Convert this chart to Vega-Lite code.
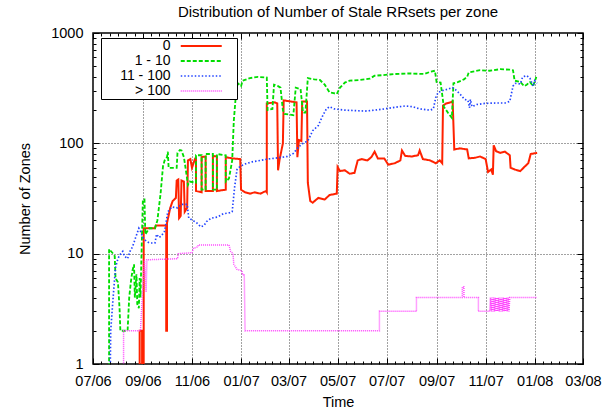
{
  "$schema": "https://vega.github.io/schema/vega-lite/v6.json",
  "width": 490,
  "height": 331,
  "autosize": {"type": "none"},
  "padding": {"left": 93, "top": 33, "right": 30, "bottom": 47},
  "background": "white",
  "title": {"text": "Distribution of Number of Stale RRsets per zone", "font": "Liberation Sans", "fontSize": 15, "fontWeight": "normal", "color": "black", "anchor": "middle", "frame": "group", "baseline": "middle", "offset": -2},
  "config": {
    "font": "Liberation Sans",
    "view": {"stroke": "black", "strokeWidth": 1.5},
    "axis": {"labelFont": "Liberation Sans", "labelFontSize": 14.5, "labelColor": "black", "titleFont": "Liberation Sans", "titleFontSize": 14.5, "titleFontWeight": "normal", "titleColor": "black", "tickColor": "black", "tickWidth": 1, "tickSize": -6, "domain": false, "gridColor": "#444444", "gridDash": [1, 2], "gridWidth": 1, "labelFlush": false, "labelOverlap": false}
  },
  "data": {"values": [
    {"d":"2006-08-28","v":0.5,"s":"0"},{"d":"2006-08-28","v":2,"s":"0"},{"d":"2006-08-31","v":2,"s":"0"},{"d":"2006-08-31","v":0.5,"s":"0"},{"d":"2006-09-02","v":0.5,"s":"0"},{"d":"2006-09-02","v":17,"s":"0"},{"d":"2006-09-16","v":17,"s":"0"},{"d":"2006-09-17","v":18,"s":"0"},{"d":"2006-09-30","v":18,"s":"0"},{"d":"2006-09-30","v":2,"s":"0"},{"d":"2006-10-01","v":2,"s":"0"},{"d":"2006-10-01","v":19,"s":"0"},{"d":"2006-10-05","v":26,"s":"0"},{"d":"2006-10-08","v":30,"s":"0"},{"d":"2006-10-12","v":32,"s":"0"},{"d":"2006-10-13","v":46,"s":"0"},{"d":"2006-10-15","v":47,"s":"0"},{"d":"2006-10-16","v":21,"s":"0"},{"d":"2006-10-18","v":22,"s":"0"},{"d":"2006-10-19","v":46,"s":"0"},{"d":"2006-10-22","v":45,"s":"0"},{"d":"2006-10-23","v":24,"s":"0"},{"d":"2006-10-26","v":26,"s":"0"},{"d":"2006-10-27","v":70,"s":"0"},{"d":"2006-10-30","v":72,"s":"0"},{"d":"2006-11-01","v":60,"s":"0"},{"d":"2006-11-05","v":73,"s":"0"},{"d":"2006-11-06","v":73,"s":"0"},{"d":"2006-11-06","v":37,"s":"0"},{"d":"2006-11-13","v":36,"s":"0"},{"d":"2006-11-13","v":75,"s":"0"},{"d":"2006-11-18","v":76,"s":"0"},{"d":"2006-11-18","v":37,"s":"0"},{"d":"2006-11-27","v":37,"s":"0"},{"d":"2006-11-27","v":77,"s":"0"},{"d":"2006-12-02","v":76,"s":"0"},{"d":"2006-12-02","v":37,"s":"0"},{"d":"2006-12-13","v":38,"s":"0"},{"d":"2006-12-13","v":75,"s":"0"},{"d":"2006-12-21","v":73,"s":"0"},{"d":"2006-12-31","v":72,"s":"0"},{"d":"2007-01-01","v":38,"s":"0"},{"d":"2007-01-06","v":36,"s":"0"},{"d":"2007-01-12","v":35,"s":"0"},{"d":"2007-01-18","v":36,"s":"0"},{"d":"2007-01-25","v":35,"s":"0"},{"d":"2007-02-01","v":37,"s":"0"},{"d":"2007-02-02","v":36,"s":"0"},{"d":"2007-02-02","v":230,"s":"0"},{"d":"2007-02-12","v":235,"s":"0"},{"d":"2007-02-15","v":230,"s":"0"},{"d":"2007-02-16","v":57,"s":"0"},{"d":"2007-02-18","v":72,"s":"0"},{"d":"2007-02-22","v":100,"s":"0"},{"d":"2007-02-23","v":245,"s":"0"},{"d":"2007-03-03","v":240,"s":"0"},{"d":"2007-03-11","v":235,"s":"0"},{"d":"2007-03-12","v":75,"s":"0"},{"d":"2007-03-14","v":107,"s":"0"},{"d":"2007-03-17","v":105,"s":"0"},{"d":"2007-03-18","v":240,"s":"0"},{"d":"2007-03-24","v":240,"s":"0"},{"d":"2007-03-25","v":44,"s":"0"},{"d":"2007-03-28","v":30,"s":"0"},{"d":"2007-03-31","v":29,"s":"0"},{"d":"2007-04-07","v":32,"s":"0"},{"d":"2007-04-15","v":31,"s":"0"},{"d":"2007-04-21","v":34,"s":"0"},{"d":"2007-04-30","v":35,"s":"0"},{"d":"2007-05-01","v":61,"s":"0"},{"d":"2007-05-04","v":56,"s":"0"},{"d":"2007-05-10","v":57,"s":"0"},{"d":"2007-05-16","v":53,"s":"0"},{"d":"2007-05-22","v":54,"s":"0"},{"d":"2007-05-26","v":70,"s":"0"},{"d":"2007-05-31","v":72,"s":"0"},{"d":"2007-06-07","v":70,"s":"0"},{"d":"2007-06-12","v":75,"s":"0"},{"d":"2007-06-16","v":84,"s":"0"},{"d":"2007-06-20","v":73,"s":"0"},{"d":"2007-06-28","v":73,"s":"0"},{"d":"2007-07-03","v":64,"s":"0"},{"d":"2007-07-11","v":66,"s":"0"},{"d":"2007-07-18","v":70,"s":"0"},{"d":"2007-07-20","v":86,"s":"0"},{"d":"2007-07-24","v":77,"s":"0"},{"d":"2007-08-01","v":76,"s":"0"},{"d":"2007-08-09","v":78,"s":"0"},{"d":"2007-08-11","v":86,"s":"0"},{"d":"2007-08-15","v":72,"s":"0"},{"d":"2007-08-24","v":70,"s":"0"},{"d":"2007-08-31","v":66,"s":"0"},{"d":"2007-09-05","v":70,"s":"0"},{"d":"2007-09-08","v":66,"s":"0"},{"d":"2007-09-09","v":220,"s":"0"},{"d":"2007-09-13","v":230,"s":"0"},{"d":"2007-09-18","v":235,"s":"0"},{"d":"2007-09-21","v":240,"s":"0"},{"d":"2007-09-23","v":88,"s":"0"},{"d":"2007-09-30","v":90,"s":"0"},{"d":"2007-10-09","v":88,"s":"0"},{"d":"2007-10-11","v":73,"s":"0"},{"d":"2007-10-19","v":74,"s":"0"},{"d":"2007-10-25","v":76,"s":"0"},{"d":"2007-11-01","v":72,"s":"0"},{"d":"2007-11-04","v":55,"s":"0"},{"d":"2007-11-08","v":58,"s":"0"},{"d":"2007-11-10","v":52,"s":"0"},{"d":"2007-11-11","v":96,"s":"0"},{"d":"2007-11-14","v":85,"s":"0"},{"d":"2007-11-19","v":82,"s":"0"},{"d":"2007-11-25","v":84,"s":"0"},{"d":"2007-12-01","v":78,"s":"0"},{"d":"2007-12-02","v":60,"s":"0"},{"d":"2007-12-07","v":58,"s":"0"},{"d":"2007-12-14","v":56,"s":"0"},{"d":"2007-12-20","v":62,"s":"0"},{"d":"2007-12-24","v":66,"s":"0"},{"d":"2007-12-27","v":80,"s":"0"},{"d":"2008-01-04","v":82,"s":"0"},

    {"d":"2006-07-21","v":0.5,"s":"1 - 10"},{"d":"2006-07-21","v":11,"s":"1 - 10"},{"d":"2006-07-26","v":10,"s":"1 - 10"},{"d":"2006-07-28","v":9.5,"s":"1 - 10"},{"d":"2006-07-29","v":6,"s":"1 - 10"},{"d":"2006-08-01","v":5.5,"s":"1 - 10"},{"d":"2006-08-03","v":3.2,"s":"1 - 10"},{"d":"2006-08-04","v":2,"s":"1 - 10"},{"d":"2006-08-13","v":2,"s":"1 - 10"},{"d":"2006-08-15","v":4,"s":"1 - 10"},{"d":"2006-08-17","v":5.5,"s":"1 - 10"},{"d":"2006-08-19","v":7,"s":"1 - 10"},{"d":"2006-08-21","v":8,"s":"1 - 10"},{"d":"2006-08-22","v":4,"s":"1 - 10"},{"d":"2006-08-24","v":6.5,"s":"1 - 10"},{"d":"2006-08-25","v":3.5,"s":"1 - 10"},{"d":"2006-08-27","v":3.2,"s":"1 - 10"},{"d":"2006-08-28","v":6,"s":"1 - 10"},{"d":"2006-08-29","v":4,"s":"1 - 10"},{"d":"2006-09-01","v":31,"s":"1 - 10"},{"d":"2006-09-03","v":31,"s":"1 - 10"},{"d":"2006-09-04","v":15,"s":"1 - 10"},{"d":"2006-09-09","v":17,"s":"1 - 10"},{"d":"2006-09-16","v":17,"s":"1 - 10"},{"d":"2006-09-19","v":20,"s":"1 - 10"},{"d":"2006-09-23","v":35,"s":"1 - 10"},{"d":"2006-09-26","v":62,"s":"1 - 10"},{"d":"2006-09-28","v":70,"s":"1 - 10"},{"d":"2006-10-01","v":75,"s":"1 - 10"},{"d":"2006-10-02","v":84,"s":"1 - 10"},{"d":"2006-10-03","v":60,"s":"1 - 10"},{"d":"2006-10-13","v":60,"s":"1 - 10"},{"d":"2006-10-14","v":82,"s":"1 - 10"},{"d":"2006-10-17","v":87,"s":"1 - 10"},{"d":"2006-10-19","v":86,"s":"1 - 10"},{"d":"2006-10-22","v":75,"s":"1 - 10"},{"d":"2006-10-24","v":60,"s":"1 - 10"},{"d":"2006-10-27","v":42,"s":"1 - 10"},{"d":"2006-10-29","v":45,"s":"1 - 10"},{"d":"2006-11-06","v":44,"s":"1 - 10"},{"d":"2006-11-06","v":78,"s":"1 - 10"},{"d":"2006-11-13","v":78,"s":"1 - 10"},{"d":"2006-11-13","v":38,"s":"1 - 10"},{"d":"2006-11-18","v":38,"s":"1 - 10"},{"d":"2006-11-18","v":80,"s":"1 - 10"},{"d":"2006-11-27","v":80,"s":"1 - 10"},{"d":"2006-11-27","v":38,"s":"1 - 10"},{"d":"2006-12-02","v":38,"s":"1 - 10"},{"d":"2006-12-02","v":80,"s":"1 - 10"},{"d":"2006-12-13","v":78,"s":"1 - 10"},{"d":"2006-12-13","v":45,"s":"1 - 10"},{"d":"2006-12-17","v":48,"s":"1 - 10"},{"d":"2006-12-21","v":70,"s":"1 - 10"},{"d":"2006-12-23","v":160,"s":"1 - 10"},{"d":"2006-12-26","v":300,"s":"1 - 10"},{"d":"2006-12-28","v":350,"s":"1 - 10"},{"d":"2007-01-01","v":330,"s":"1 - 10"},{"d":"2007-01-03","v":370,"s":"1 - 10"},{"d":"2007-01-12","v":390,"s":"1 - 10"},{"d":"2007-01-22","v":400,"s":"1 - 10"},{"d":"2007-02-02","v":395,"s":"1 - 10"},{"d":"2007-02-03","v":200,"s":"1 - 10"},{"d":"2007-02-09","v":205,"s":"1 - 10"},{"d":"2007-02-11","v":340,"s":"1 - 10"},{"d":"2007-02-16","v":330,"s":"1 - 10"},{"d":"2007-02-19","v":320,"s":"1 - 10"},{"d":"2007-02-22","v":200,"s":"1 - 10"},{"d":"2007-02-24","v":185,"s":"1 - 10"},{"d":"2007-03-07","v":180,"s":"1 - 10"},{"d":"2007-03-10","v":320,"s":"1 - 10"},{"d":"2007-03-16","v":310,"s":"1 - 10"},{"d":"2007-03-19","v":190,"s":"1 - 10"},{"d":"2007-03-22","v":190,"s":"1 - 10"},{"d":"2007-03-25","v":390,"s":"1 - 10"},{"d":"2007-04-02","v":380,"s":"1 - 10"},{"d":"2007-04-09","v":375,"s":"1 - 10"},{"d":"2007-04-15","v":340,"s":"1 - 10"},{"d":"2007-04-21","v":290,"s":"1 - 10"},{"d":"2007-04-26","v":285,"s":"1 - 10"},{"d":"2007-04-30","v":280,"s":"1 - 10"},{"d":"2007-05-04","v":320,"s":"1 - 10"},{"d":"2007-05-10","v":355,"s":"1 - 10"},{"d":"2007-05-16","v":370,"s":"1 - 10"},{"d":"2007-05-29","v":375,"s":"1 - 10"},{"d":"2007-06-10","v":385,"s":"1 - 10"},{"d":"2007-06-16","v":410,"s":"1 - 10"},{"d":"2007-06-26","v":415,"s":"1 - 10"},{"d":"2007-07-11","v":425,"s":"1 - 10"},{"d":"2007-07-30","v":430,"s":"1 - 10"},{"d":"2007-08-17","v":425,"s":"1 - 10"},{"d":"2007-08-24","v":445,"s":"1 - 10"},{"d":"2007-08-30","v":455,"s":"1 - 10"},{"d":"2007-09-01","v":360,"s":"1 - 10"},{"d":"2007-09-06","v":355,"s":"1 - 10"},{"d":"2007-09-10","v":215,"s":"1 - 10"},{"d":"2007-09-15","v":190,"s":"1 - 10"},{"d":"2007-09-20","v":170,"s":"1 - 10"},{"d":"2007-09-22","v":350,"s":"1 - 10"},{"d":"2007-09-28","v":360,"s":"1 - 10"},{"d":"2007-10-05","v":380,"s":"1 - 10"},{"d":"2007-10-09","v":400,"s":"1 - 10"},{"d":"2007-10-11","v":440,"s":"1 - 10"},{"d":"2007-10-25","v":460,"s":"1 - 10"},{"d":"2007-11-06","v":455,"s":"1 - 10"},{"d":"2007-11-19","v":470,"s":"1 - 10"},{"d":"2007-12-01","v":465,"s":"1 - 10"},{"d":"2007-12-05","v":460,"s":"1 - 10"},{"d":"2007-12-07","v":370,"s":"1 - 10"},{"d":"2007-12-14","v":360,"s":"1 - 10"},{"d":"2007-12-19","v":330,"s":"1 - 10"},{"d":"2007-12-22","v":340,"s":"1 - 10"},{"d":"2007-12-26","v":360,"s":"1 - 10"},{"d":"2007-12-30","v":330,"s":"1 - 10"},{"d":"2008-01-03","v":400,"s":"1 - 10"},

    {"d":"2006-07-22","v":0.5,"s":"11 - 100"},{"d":"2006-07-23","v":2,"s":"11 - 100"},{"d":"2006-07-26","v":4,"s":"11 - 100"},{"d":"2006-07-29","v":7.5,"s":"11 - 100"},{"d":"2006-08-01","v":9,"s":"11 - 100"},{"d":"2006-08-03","v":9.7,"s":"11 - 100"},{"d":"2006-08-07","v":10.5,"s":"11 - 100"},{"d":"2006-08-09","v":9.5,"s":"11 - 100"},{"d":"2006-08-13","v":9,"s":"11 - 100"},{"d":"2006-08-16","v":10.5,"s":"11 - 100"},{"d":"2006-08-19","v":11.5,"s":"11 - 100"},{"d":"2006-08-23","v":14,"s":"11 - 100"},{"d":"2006-08-27","v":17,"s":"11 - 100"},{"d":"2006-08-29","v":16,"s":"11 - 100"},{"d":"2006-09-01","v":14,"s":"11 - 100"},{"d":"2006-09-05","v":13,"s":"11 - 100"},{"d":"2006-09-09","v":12.5,"s":"11 - 100"},{"d":"2006-09-16","v":12.5,"s":"11 - 100"},{"d":"2006-09-18","v":15,"s":"11 - 100"},{"d":"2006-09-21","v":14,"s":"11 - 100"},{"d":"2006-09-24","v":14.5,"s":"11 - 100"},{"d":"2006-09-28","v":16,"s":"11 - 100"},{"d":"2006-10-02","v":24,"s":"11 - 100"},{"d":"2006-10-07","v":26.5,"s":"11 - 100"},{"d":"2006-10-14","v":26,"s":"11 - 100"},{"d":"2006-10-19","v":28,"s":"11 - 100"},{"d":"2006-10-26","v":28,"s":"11 - 100"},{"d":"2006-10-28","v":21,"s":"11 - 100"},{"d":"2006-11-02","v":20,"s":"11 - 100"},{"d":"2006-11-07","v":19,"s":"11 - 100"},{"d":"2006-11-12","v":17.5,"s":"11 - 100"},{"d":"2006-11-16","v":18,"s":"11 - 100"},{"d":"2006-11-19","v":19.5,"s":"11 - 100"},{"d":"2006-11-25","v":21,"s":"11 - 100"},{"d":"2006-12-03","v":21.5,"s":"11 - 100"},{"d":"2006-12-10","v":23,"s":"11 - 100"},{"d":"2006-12-18","v":23.5,"s":"11 - 100"},{"d":"2006-12-21","v":24,"s":"11 - 100"},{"d":"2006-12-24","v":40,"s":"11 - 100"},{"d":"2006-12-27","v":58,"s":"11 - 100"},{"d":"2006-12-31","v":62,"s":"11 - 100"},{"d":"2007-01-06","v":65,"s":"11 - 100"},{"d":"2007-01-15","v":68,"s":"11 - 100"},{"d":"2007-01-25","v":70,"s":"11 - 100"},{"d":"2007-02-03","v":72,"s":"11 - 100"},{"d":"2007-02-16","v":74,"s":"11 - 100"},{"d":"2007-02-28","v":76,"s":"11 - 100"},{"d":"2007-03-07","v":81,"s":"11 - 100"},{"d":"2007-03-13","v":92,"s":"11 - 100"},{"d":"2007-03-19","v":100,"s":"11 - 100"},{"d":"2007-03-25","v":105,"s":"11 - 100"},{"d":"2007-03-31","v":130,"s":"11 - 100"},{"d":"2007-04-07","v":145,"s":"11 - 100"},{"d":"2007-04-12","v":175,"s":"11 - 100"},{"d":"2007-04-17","v":205,"s":"11 - 100"},{"d":"2007-04-21","v":215,"s":"11 - 100"},{"d":"2007-04-27","v":205,"s":"11 - 100"},{"d":"2007-05-10","v":200,"s":"11 - 100"},{"d":"2007-05-22","v":198,"s":"11 - 100"},{"d":"2007-06-04","v":196,"s":"11 - 100"},{"d":"2007-06-16","v":200,"s":"11 - 100"},{"d":"2007-06-28","v":205,"s":"11 - 100"},{"d":"2007-07-11","v":212,"s":"11 - 100"},{"d":"2007-07-24","v":218,"s":"11 - 100"},{"d":"2007-08-02","v":215,"s":"11 - 100"},{"d":"2007-08-11","v":205,"s":"11 - 100"},{"d":"2007-08-24","v":200,"s":"11 - 100"},{"d":"2007-08-28","v":205,"s":"11 - 100"},{"d":"2007-08-31","v":260,"s":"11 - 100"},{"d":"2007-09-03","v":290,"s":"11 - 100"},{"d":"2007-09-08","v":300,"s":"11 - 100"},{"d":"2007-09-15","v":310,"s":"11 - 100"},{"d":"2007-09-21","v":320,"s":"11 - 100"},{"d":"2007-09-26","v":300,"s":"11 - 100"},{"d":"2007-10-01","v":275,"s":"11 - 100"},{"d":"2007-10-06","v":250,"s":"11 - 100"},{"d":"2007-10-10","v":245,"s":"11 - 100"},{"d":"2007-10-12","v":210,"s":"11 - 100"},{"d":"2007-10-13","v":250,"s":"11 - 100"},{"d":"2007-10-15","v":215,"s":"11 - 100"},{"d":"2007-10-21","v":225,"s":"11 - 100"},{"d":"2007-10-31","v":230,"s":"11 - 100"},{"d":"2007-11-13","v":232,"s":"11 - 100"},{"d":"2007-11-25","v":232,"s":"11 - 100"},{"d":"2007-12-01","v":240,"s":"11 - 100"},{"d":"2007-12-05","v":330,"s":"11 - 100"},{"d":"2007-12-08","v":350,"s":"11 - 100"},{"d":"2007-12-14","v":345,"s":"11 - 100"},{"d":"2007-12-17","v":400,"s":"11 - 100"},{"d":"2007-12-22","v":410,"s":"11 - 100"},{"d":"2007-12-26","v":390,"s":"11 - 100"},{"d":"2007-12-30","v":330,"s":"11 - 100"},{"d":"2008-01-01","v":370,"s":"11 - 100"},{"d":"2008-01-04","v":350,"s":"11 - 100"},

    {"d":"2006-08-08","v":0.5,"s":"> 100"},{"d":"2006-08-08","v":2,"s":"> 100"},{"d":"2006-08-29","v":2,"s":"> 100"},{"d":"2006-09-01","v":5,"s":"> 100"},{"d":"2006-09-03","v":8.8,"s":"> 100"},{"d":"2006-09-05","v":4.5,"s":"> 100"},{"d":"2006-09-06","v":8.8,"s":"> 100"},{"d":"2006-10-14","v":9,"s":"> 100"},{"d":"2006-10-15","v":10,"s":"> 100"},{"d":"2006-11-01","v":10.2,"s":"> 100"},{"d":"2006-11-03","v":11.2,"s":"> 100"},{"d":"2006-11-08","v":11.5,"s":"> 100"},{"d":"2006-11-09","v":12,"s":"> 100"},{"d":"2006-12-17","v":12,"s":"> 100"},{"d":"2006-12-19","v":10.5,"s":"> 100"},{"d":"2006-12-22","v":10,"s":"> 100"},{"d":"2006-12-23","v":8,"s":"> 100"},{"d":"2006-12-27","v":7.2,"s":"> 100"},{"d":"2007-01-02","v":7,"s":"> 100"},{"d":"2007-01-03","v":6.4,"s":"> 100"},{"d":"2007-01-05","v":6.5,"s":"> 100"},{"d":"2007-01-06","v":2,"s":"> 100"},{"d":"2007-06-22","v":2,"s":"> 100"},{"d":"2007-06-22","v":3,"s":"> 100"},{"d":"2007-08-07","v":3,"s":"> 100"},{"d":"2007-08-07","v":4,"s":"> 100"},{"d":"2007-10-03","v":4,"s":"> 100"},{"d":"2007-10-03","v":5,"s":"> 100"},{"d":"2007-10-05","v":5,"s":"> 100"},{"d":"2007-10-05","v":4,"s":"> 100"},{"d":"2007-10-23","v":4,"s":"> 100"},{"d":"2007-10-23","v":3,"s":"> 100"},{"d":"2007-11-06","v":3,"s":"> 100"},{"d":"2007-11-07","v":4,"s":"> 100"},{"d":"2007-11-08","v":3,"s":"> 100"},{"d":"2007-11-09","v":4,"s":"> 100"},{"d":"2007-11-10","v":3,"s":"> 100"},{"d":"2007-11-11","v":4,"s":"> 100"},{"d":"2007-11-12","v":3,"s":"> 100"},{"d":"2007-11-13","v":4,"s":"> 100"},{"d":"2007-11-14","v":3,"s":"> 100"},{"d":"2007-11-15","v":4,"s":"> 100"},{"d":"2007-11-16","v":3,"s":"> 100"},{"d":"2007-11-17","v":4,"s":"> 100"},{"d":"2007-11-18","v":3,"s":"> 100"},{"d":"2007-11-19","v":4,"s":"> 100"},{"d":"2007-11-20","v":3,"s":"> 100"},{"d":"2007-11-21","v":4,"s":"> 100"},{"d":"2007-11-22","v":3,"s":"> 100"},{"d":"2007-11-23","v":4,"s":"> 100"},{"d":"2007-11-24","v":3,"s":"> 100"},{"d":"2007-11-25","v":4,"s":"> 100"},{"d":"2007-11-26","v":3,"s":"> 100"},{"d":"2007-11-27","v":4,"s":"> 100"},{"d":"2007-11-28","v":3,"s":"> 100"},{"d":"2007-11-29","v":4,"s":"> 100"},{"d":"2007-11-30","v":3,"s":"> 100"},{"d":"2007-12-01","v":4,"s":"> 100"},{"d":"2008-01-04","v":4,"s":"> 100"}
  ]},
  "resolve": {"axis": {"x": "independent", "y": "independent"}},
  "layer": [
    {
      "mark": {"type": "line", "clip": true, "strokeCap": "butt", "strokeJoin": "miter"},
      "encoding": {
        "x": {"field": "d", "type": "temporal",
          "scale": {"type": "utc", "domain": [1151712000000, 1204329600000], "nice": false},
          "axis": {"orient": "bottom",
            "values": [1151712000000,1157068800000,1162339200000,1167609600000,1172707200000,1177977600000,1183248000000,1188604800000,1193875200000,1199145600000,1204329600000,1152576000000,1153526400000,1154390400000,1155254400000,1156204800000,1157932800000,1158796800000,1159747200000,1160611200000,1161475200000,1163203200000,1164067200000,1165017600000,1165881600000,1166745600000,1168473600000,1169337600000,1170201600000,1170979200000,1171843200000,1173571200000,1174435200000,1175385600000,1176249600000,1177113600000,1178841600000,1179705600000,1180656000000,1181520000000,1182384000000,1184112000000,1185062400000,1185926400000,1186790400000,1187740800000,1189468800000,1190332800000,1191283200000,1192147200000,1193011200000,1194739200000,1195603200000,1196553600000,1197417600000,1198281600000,1200009600000,1200873600000,1201737600000,1202601600000,1203465600000],
            "labelExpr": "(utcdate(datum.value) == 1 && utcmonth(datum.value) % 2 == 0) ? utcFormat(datum.value, '%m/%y') : ''",
            "labelBaseline": "middle", "labelPadding": 23,
            "grid": true,
            "gridOpacity": {"condition": {"test": "utcdate(datum.value) == 1 && utcmonth(datum.value) % 2 == 0", "value": 1}, "value": 0},
            "tickDash": {"condition": {"test": "utcdate(datum.value) == 1 && utcmonth(datum.value) % 2 == 0", "value": [10, 0]}, "value": [3, 20]},
            "title": "Time", "titleX": 245, "titleY": 38, "titleBaseline": "middle"}},
        "y": {"field": "v", "type": "quantitative",
          "scale": {"type": "log", "domain": [1, 1000], "nice": false},
          "axis": {"orient": "left",
            "values": [1,2,3,4,5,6,7,8,9,10,20,30,40,50,60,70,80,90,100,200,300,400,500,600,700,800,900,1000],
            "format": "d",
            "labelExpr": "(datum.value == 1 || datum.value == 10 || datum.value == 100 || datum.value == 1000) ? datum.label : ''",
            "labelPadding": 16, "labelBaseline": "middle",
            "grid": true,
            "gridOpacity": {"condition": {"test": "datum.value == 1 || datum.value == 10 || datum.value == 100 || datum.value == 1000", "value": 1}, "value": 0},
            "tickDash": {"condition": {"test": "datum.value == 1 || datum.value == 10 || datum.value == 100 || datum.value == 1000", "value": [10, 0]}, "value": [3, 20]},
            "title": "Number of Zones", "titleX": -68, "titleY": 165.5, "titleBaseline": "middle"}},
        "color": {"field": "s", "type": "nominal",
          "scale": {"domain": ["0", "1 - 10", "11 - 100", "> 100"], "range": ["#ff2200", "#00dd00", "#2244ff", "#ff44ff"]},
          "legend": {"orient": "none", "legendX": 8, "legendY": 5, "title": null, "direction": "vertical",
            "strokeColor": "black", "fillColor": "white", "padding": 1,
            "labelAlign": "right", "labelOffset": -37.75, "symbolOffset": 92.25,
            "symbolType": "M-4,0L4,0M6,0", "symbolSize": 105, "symbolStrokeWidth": 1.5,
            "rowPadding": 1,
            "labelFontSize": 14, "labelFont": "Liberation Sans", "labelColor": "black", "labelBaseline": "middle", "labelLimit": 200}},
        "strokeDash": {"field": "s", "type": "nominal",
          "scale": {"domain": ["0", "1 - 10", "11 - 100", "> 100"], "range": [[1, 0], [4, 2], [1.5, 2], [1, 1]]}},
        "strokeWidth": {"field": "s", "type": "ordinal",
          "scale": {"domain": ["0", "1 - 10", "11 - 100", "> 100"], "range": [2, 1.5, 1.6, 1.3]}, "legend": null}
      }
    },
    {
      "mark": {"type": "line", "strokeOpacity": 0, "clip": true},
      "encoding": {
        "x": {"field": "d", "type": "temporal",
          "scale": {"type": "utc", "domain": [1151712000000, 1204329600000], "nice": false},
          "axis": {"orient": "top",
            "values": [1151712000000,1157068800000,1162339200000,1167609600000,1172707200000,1177977600000,1183248000000,1188604800000,1193875200000,1199145600000,1204329600000,1152576000000,1153526400000,1154390400000,1155254400000,1156204800000,1157932800000,1158796800000,1159747200000,1160611200000,1161475200000,1163203200000,1164067200000,1165017600000,1165881600000,1166745600000,1168473600000,1169337600000,1170201600000,1170979200000,1171843200000,1173571200000,1174435200000,1175385600000,1176249600000,1177113600000,1178841600000,1179705600000,1180656000000,1181520000000,1182384000000,1184112000000,1185062400000,1185926400000,1186790400000,1187740800000,1189468800000,1190332800000,1191283200000,1192147200000,1193011200000,1194739200000,1195603200000,1196553600000,1197417600000,1198281600000,1200009600000,1200873600000,1201737600000,1202601600000,1203465600000],
            "labels": false, "grid": false, "title": null,
            "tickDash": {"condition": {"test": "utcdate(datum.value) == 1 && utcmonth(datum.value) % 2 == 0", "value": [10, 0]}, "value": [3, 20]}}},
        "y": {"field": "v", "type": "quantitative",
          "scale": {"type": "log", "domain": [1, 1000], "nice": false},
          "axis": {"orient": "right",
            "values": [1,2,3,4,5,6,7,8,9,10,20,30,40,50,60,70,80,90,100,200,300,400,500,600,700,800,900,1000],
            "labels": false, "grid": false, "title": null,
            "tickDash": {"condition": {"test": "datum.value == 1 || datum.value == 10 || datum.value == 100 || datum.value == 1000", "value": [10, 0]}, "value": [3, 20]}}}
      }
    }
  ]
}
